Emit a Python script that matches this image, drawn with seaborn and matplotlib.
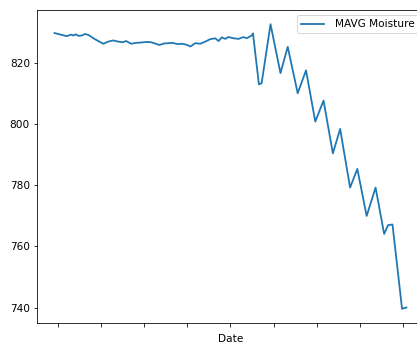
import pandas as pd
import seaborn as sns
import matplotlib.pyplot as plt

# time axis (arbitrary units, major tick every 10) and moving average moisture
t = [-0.69, 0.99, 2.14, 3.13, 3.68, 4.21, 4.83, 5.59, 6.34, 7.13,
     8.64, 10.57, 11.72, 12.87, 14.02, 15.08, 15.86, 17.01, 18.16, 19.31,
     20.46, 21.61, 22.37, 23.52, 24.67, 25.82, 26.57, 27.72, 28.87, 30.02,
     30.71, 31.86, 33.01, 34.16, 35.31, 36.46, 37.24, 38.00, 38.76, 39.54,
     40.69, 41.84, 42.99, 43.75, 44.90, 45.20, 46.57, 47.20, 49.26, 51.56,
     53.24, 55.54, 57.47, 59.61, 61.52, 63.68, 65.36, 67.66, 69.34, 71.49,
     73.56, 75.54, 76.46, 77.47, 79.68, 80.69]
moisture = [829.9, 829.3, 828.9, 829.4, 829.1, 829.5, 829.0, 829.1, 829.6, 829.3,
            827.9, 826.4, 827.1, 827.5, 827.1, 826.9, 827.3, 826.4, 826.7, 826.8,
            827.0, 826.9, 826.6, 826.0, 826.5, 826.6, 826.7, 826.3, 826.4, 826.0,
            825.5, 826.6, 826.4, 827.1, 827.9, 828.2, 827.3, 828.5, 828.0, 828.6,
            828.2, 828.0, 828.6, 828.2, 829.1, 829.8, 813.1, 813.5, 832.8, 816.8,
            825.4, 810.2, 817.7, 800.9, 807.8, 790.5, 798.5, 779.3, 785.4, 770.0,
            779.3, 764.1, 767.0, 767.2, 739.6, 740.0]
xticks = [0, 10, 20, 30, 40, 50, 60, 70, 80]

df = pd.DataFrame({"Date": t, "MAVG Moisture": moisture})

plt.rcParams["font.size"] = 10.5

fig = plt.figure(figsize=(417 / 72, 347 / 72), dpi=72)
ax = fig.add_axes([37 / 417, 24 / 347, 387 / 417, 313 / 347])

sns.lineplot(data=df, x="Date", y="MAVG Moisture", label="MAVG Moisture",
             linewidth=1.8, ax=ax)
ax.set_xticks(xticks)
ax.set_xticklabels([""] * len(xticks))
ax.set_ylabel("")
ax.set_xlabel("Date")
# legend sits partly outside the cropped picture, as in the original
ax.legend(loc="upper left", bbox_to_anchor=(297 / 417, 1 - 15 / 347),
          bbox_transform=fig.transFigure, borderaxespad=0,
          handlelength=2.2, handletextpad=1.0)

fig.savefig("out.png", dpi=72)
